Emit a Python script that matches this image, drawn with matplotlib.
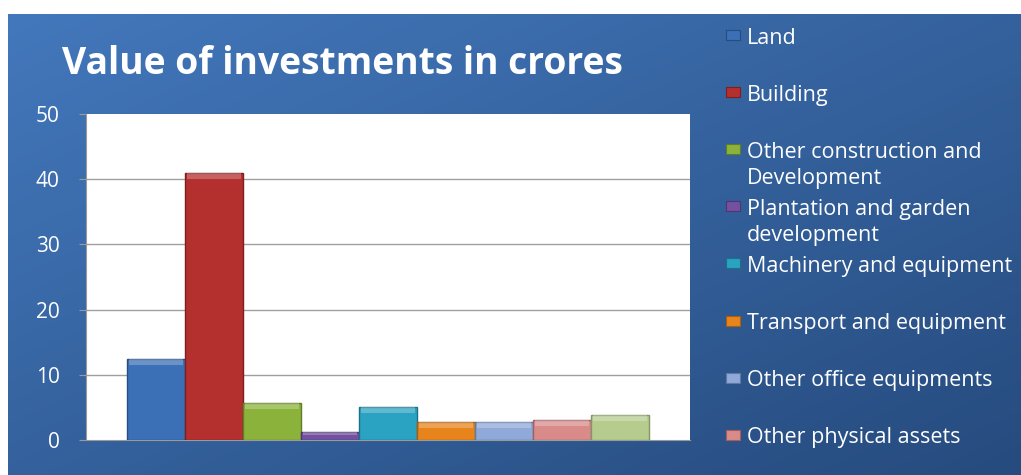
import numpy as np
import matplotlib
matplotlib.use("Agg")
import matplotlib.pyplot as plt
from matplotlib.patches import Rectangle

title = "Value of investments in crores"
categories = ["Land", "Building", "Other construction and\nDevelopment",
              "Plantation and garden\ndevelopment", "Machinery and equipment",
              "Transport and equipment", "Other office equipments",
              "Other physical assets", "Other"]
values = [12.4, 41.0, 5.7, 1.2, 5.0, 2.8, 2.8, 3.1, 3.8]
colors = ["#3b6fb6", "#b3302e", "#8bb33b", "#7451a0", "#2aa2c2",
          "#e8841c", "#8fa9d8", "#d98b8a", "#b5cc8e"]
edge_colors = ["#264d80", "#7d1f1e", "#5f7d26", "#4f3670", "#1b7188",
               "#a85e10", "#6079a0", "#a06060", "#82966a"]
legend_n = 8
yticks = [0, 10, 20, 30, 40, 50]

W, H = 1021, 475
fig = plt.figure(figsize=(W / 100, H / 100), dpi=100, facecolor="white")

# gradient background
bg = fig.add_axes([8 / W, 0, 1 - 8 / W, 1 - 14 / H])
bg.set_axis_off()
yy, xx = np.mgrid[0:1:200j, 0:1:400j]
t = 0.5 * xx + 0.5 * yy
c0 = np.array([0x43, 0x78, 0xbc]) / 255
c1 = np.array([0x26, 0x4b, 0x7e]) / 255
img = c0[None, None, :] * (1 - t[..., None]) + c1[None, None, :] * t[..., None]
bg.imshow(img, aspect="auto", extent=[0, 1, 0, 1], origin="upper")
bg.set_xlim(0, 1)
bg.set_ylim(0, 1)

fig.text(62 / W, 1 - 64 / H, title, color="white", fontsize=26.8,
         fontweight="bold", family="Open Sans", va="center", ha="left")

ax = fig.add_axes([86 / W, 35 / H, 604 / W, 326 / H])
ax.set_facecolor("white")
x = np.arange(len(values))
ax.bar(x, values, width=1.0, color=colors, edgecolor=edge_colors, linewidth=1.0, zorder=3)
# bevel highlight on top of bars
for xi, v, c in zip(x, values, colors):
    h = min(0.9, v * 0.35)
    ax.bar(xi, h, bottom=v - h, width=0.94, color="white", alpha=0.25,
           linewidth=0, zorder=4)
ax.set_xlim(-1.207, 9.207)
ax.set_ylim(0, 50)
ax.set_yticks(yticks)
ax.set_yticklabels([str(v) for v in yticks], color="white", fontsize=15,
                   family="Open Sans")
ax.tick_params(axis="y", length=5, color="#9a9a9a", pad=14)
ax.set_xticks([])
for v in yticks[1:-1]:
    ax.axhline(v, color="#a0a0a0", linewidth=1.0, zorder=1)
for s in ["top", "right"]:
    ax.spines[s].set_visible(False)
ax.spines["left"].set_color("#9a9a9a")
ax.spines["bottom"].set_color("#9a9a9a")

# legend
for i in range(legend_n):
    ytop = 35 + i * 57.1
    fig.patches.append(Rectangle((726 / W, 1 - (ytop + 5) / H), 14 / W, 10 / H,
                                 transform=fig.transFigure, facecolor=colors[i],
                                 edgecolor=edge_colors[i], linewidth=0.8))
    fig.text(747 / W, 1 - (ytop - 7.5) / H, categories[i], color="white",
             fontsize=15.5, family="Open Sans", va="top", ha="left",
             linespacing=1.35)

fig.savefig("out.png", dpi=100, facecolor="white")
